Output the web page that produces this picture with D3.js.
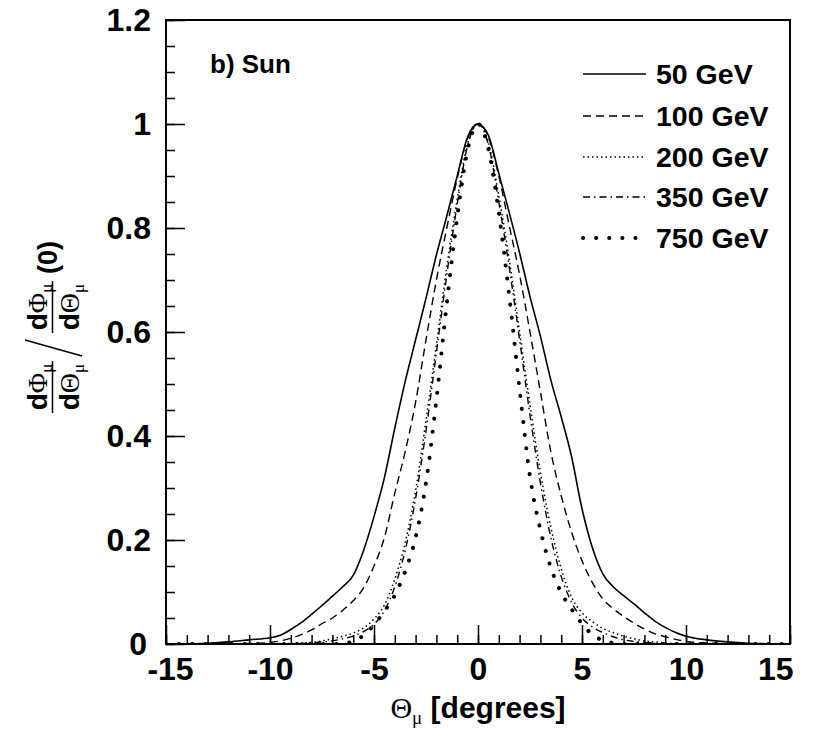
<!DOCTYPE html>
<html>
<head>
<meta charset="utf-8">
<script src="https://cdn.jsdelivr.net/npm/d3@7"></script>
<style>
  body { margin: 0; background: #fff; }
  text { font-family: "Liberation Sans", Arial, sans-serif; font-weight: bold; fill: #000; }
  .greek { font-family: "Liberation Serif", "Times New Roman", serif; font-weight: normal; }
</style>
</head>
<body>
<div id="chart"></div>
<script>
// Frame size and plot box
const FRAME_WIDTH = 815;
const FRAME_HEIGHT = 732;
const MARGINS = {left: 166, top: 20};
const VIS_WIDTH = 624;
const VIS_HEIGHT = 624;

// Angle grid (degrees) shared by all curves
const THETA = [-15, -14, -13, -12, -11, -10, -9.5, -9, -8.5, -8, -7.5, -7, -6.5, -6, -5.5, -5,
  -4.5, -4, -3.5, -3, -2.5, -2, -1.5, -1, -0.5, 0, 0.5, 1, 1.5, 2, 2.5, 3, 3.5, 4, 4.5, 5,
  5.5, 6, 6.5, 7, 7.5, 8, 8.5, 9, 9.5, 10, 11, 12, 13, 14, 15];

// Normalised distributions
const V50 = [0, 0.0005, 0.0015, 0.004, 0.008, 0.012, 0.017, 0.028, 0.041, 0.057, 0.074, 0.092,
  0.11, 0.132, 0.18, 0.245, 0.32, 0.415, 0.505, 0.585, 0.665, 0.748, 0.823, 0.9, 0.975, 1,
  0.978, 0.905, 0.83, 0.752, 0.668, 0.592, 0.508, 0.437, 0.36, 0.26, 0.185, 0.135, 0.11, 0.093,
  0.077, 0.06, 0.044, 0.032, 0.022, 0.015, 0.008, 0.004, 0.0015, 0.0005, 0];
const V100 = [0, 0, 0, 0, 0.001, 0.003, 0.006, 0.011, 0.018, 0.027, 0.039, 0.05,
  0.065, 0.083, 0.108, 0.15, 0.205, 0.29, 0.37, 0.465, 0.585, 0.7, 0.8, 0.895, 0.972, 1,
  0.975, 0.9, 0.805, 0.71, 0.6, 0.485, 0.37, 0.285, 0.215, 0.16, 0.118, 0.087, 0.068, 0.053,
  0.04, 0.029, 0.02, 0.014, 0.009, 0.005, 0.002, 0.0005, 0, 0, 0];
const V200 = [0, 0, 0, 0, 0, 0, 0, 0.001, 0.002, 0.003, 0.006, 0.01,
  0.015, 0.021, 0.031, 0.048, 0.075, 0.125, 0.195, 0.295, 0.43, 0.575, 0.725, 0.855, 0.962, 1,
  0.965, 0.862, 0.74, 0.6, 0.46, 0.33, 0.225, 0.145, 0.09, 0.06, 0.043, 0.03, 0.022, 0.015,
  0.01, 0.006, 0.004, 0.002, 0.001, 0, 0, 0, 0, 0, 0];
const V350 = [0, 0, 0, 0, 0, 0, 0, 0, 0.001, 0.002, 0.004, 0.006,
  0.01, 0.015, 0.024, 0.038, 0.064, 0.11, 0.18, 0.28, 0.41, 0.56, 0.71, 0.845, 0.958, 1,
  0.96, 0.85, 0.725, 0.585, 0.44, 0.31, 0.205, 0.13, 0.08, 0.05, 0.033, 0.022, 0.014, 0.008,
  0.005, 0.003, 0.001, 0, 0, 0, 0, 0, 0, 0, 0];
const V750 = [0, 0, 0, 0, 0, 0, 0, 0, 0, 0, 0, 0,
  0.001, 0.005, 0.017, 0.037, 0.063, 0.094, 0.14, 0.205, 0.31, 0.47, 0.655, 0.82, 0.95, 1,
  0.952, 0.83, 0.67, 0.49, 0.322, 0.22, 0.147, 0.099, 0.067, 0.039, 0.018, 0.007, 0.002, 0,
  0, 0, 0, 0, 0, 0, 0, 0, 0, 0, 0];

const SERIES_NAMES = ["50 GeV", "100 GeV", "200 GeV", "350 GeV", "750 GeV"];
const SERIES_VALUES = [V50, V100, V200, V350, V750];

// Axis ticks
const X_TICKS = [-15, -10, -5, 0, 5, 10, 15];
const X_TICK_LABELS = ["-15", "-10", "-5", "0", "5", "10", "15"];
const Y_TICKS = [0, 0.2, 0.4, 0.6, 0.8, 1, 1.2];
const Y_TICK_LABELS = ["0", "0.2", "0.4", "0.6", "0.8", "1", "1.2"];

// Line styles for each energy
const LINE_STYLES = [
  {width: 1.6, dash: null, cap: "butt"},
  {width: 1.4, dash: "8 5", cap: "butt"},
  {width: 1.5, dash: "1.5 3", cap: "butt"},
  {width: 1.4, dash: "7 4 1.5 4", cap: "butt"},
  {width: 4, dash: "0.1 13", cap: "round"}
];

const FRAME = d3.select("#chart")
  .append("svg")
    .attr("width", FRAME_WIDTH)
    .attr("height", FRAME_HEIGHT);

// Scales
const X_SCALE = d3.scaleLinear().domain([-15, 15]).range([0, VIS_WIDTH]);
const Y_SCALE = d3.scaleLinear().domain([0, 1.2]).range([VIS_HEIGHT, 0]);

const PLOT = FRAME.append("g")
  .attr("transform", "translate(" + MARGINS.left + "," + MARGINS.top + ")");

PLOT.append("clipPath").attr("id", "clip")
  .append("rect").attr("width", VIS_WIDTH).attr("height", VIS_HEIGHT);

// Minor ticks
PLOT.append("g")
  .attr("transform", "translate(0," + VIS_HEIGHT + ")")
  .call(d3.axisBottom(X_SCALE).tickValues(d3.range(-15, 15.01, 1)).tickSize(-9).tickSizeOuter(0).tickFormat(""))
  .call(g => g.select(".domain").remove());
PLOT.append("g")
  .call(d3.axisLeft(Y_SCALE).tickValues(d3.range(0, 1.2001, 0.05)).tickSize(-9).tickSizeOuter(0).tickFormat(""))
  .call(g => g.select(".domain").remove());

// Major ticks with labels
const XAXIS = PLOT.append("g")
  .attr("transform", "translate(0," + VIS_HEIGHT + ")")
  .call(d3.axisBottom(X_SCALE).tickValues(X_TICKS).tickSize(-19).tickSizeOuter(0).tickPadding(13)
    .tickFormat((d, i) => X_TICK_LABELS[i]))
  .call(g => g.select(".domain").remove())
  .attr("font-size", "32px");
// end labels nudged inwards, as in the original
XAXIS.selectAll(".tick text").filter(d => d === 15)
  .attr("text-anchor", "end").attr("dx", 3);
XAXIS.selectAll(".tick text").filter(d => d === -15)
  .attr("dx", 4);

const YAXIS = PLOT.append("g")
  .call(d3.axisLeft(Y_SCALE).tickValues(Y_TICKS).tickSize(-19).tickSizeOuter(0).tickPadding(15)
    .tickFormat((d, i) => Y_TICK_LABELS[i]))
  .call(g => g.select(".domain").remove())
  .attr("font-size", "32px");
YAXIS.selectAll(".tick text").filter(d => d === 0)
  .attr("dx", -4);

PLOT.selectAll(".tick line").attr("stroke", "#000").attr("stroke-width", 1.5);
PLOT.selectAll(".tick text").attr("font-family", "Liberation Sans, Arial, sans-serif").attr("font-weight", "bold");

// Curves
const LINE = d3.line()
  .x((d, i) => X_SCALE(THETA[i]))
  .y(d => Y_SCALE(d))
  .curve(d3.curveMonotoneX);

PLOT.append("g").attr("clip-path", "url(#clip)")
  .selectAll("path")
  .data(SERIES_VALUES)
  .enter()
  .append("path")
    .attr("d", d => LINE(d))
    .attr("fill", "none")
    .attr("stroke", "#000")
    .attr("stroke-width", (d, i) => LINE_STYLES[i].width)
    .attr("stroke-dasharray", (d, i) => LINE_STYLES[i].dash)
    .attr("stroke-linecap", (d, i) => LINE_STYLES[i].cap);

// Frame box
PLOT.append("rect")
  .attr("width", VIS_WIDTH)
  .attr("height", VIS_HEIGHT)
  .attr("fill", "none")
  .attr("stroke", "#000")
  .attr("stroke-width", 2);

// Panel label
FRAME.append("text")
  .attr("x", 210).attr("y", 73)
  .attr("font-size", "26px")
  .text("b) Sun");

// Legend
const LEGEND_Y = [74, 116, 157, 197, 238];
const LEGEND = FRAME.append("g");
LEGEND.selectAll("line")
  .data(SERIES_NAMES)
  .enter()
  .append("line")
    .attr("x1", 583).attr("x2", 646)
    .attr("y1", (d, i) => LEGEND_Y[i]).attr("y2", (d, i) => LEGEND_Y[i])
    .attr("stroke", "#000")
    .attr("stroke-width", (d, i) => LINE_STYLES[i].width)
    .attr("stroke-dasharray", (d, i) => LINE_STYLES[i].dash)
    .attr("stroke-linecap", (d, i) => LINE_STYLES[i].cap);
LEGEND.selectAll("text")
  .data(SERIES_NAMES)
  .enter()
  .append("text")
    .attr("x", 656)
    .attr("y", (d, i) => LEGEND_Y[i] + 10)
    .attr("font-size", "28.5px")
    .text(d => d);

// X axis title
const XT = FRAME.append("text")
  .attr("x", 478).attr("y", 718)
  .attr("text-anchor", "middle")
  .attr("font-size", "30px");
XT.append("tspan").attr("class", "greek").text("Θ");
XT.append("tspan").attr("class", "greek").attr("font-size", "19px").attr("dy", 6).text("μ");
XT.append("tspan").attr("dy", -6).text(" [degrees]");

// Y axis title: rotated ratio of two fractions
const YT = FRAME.append("g").attr("transform", "rotate(-90)");

function fraction(cx, top, bottom) {
  const num = YT.append("text")
    .attr("x", cx).attr("y", 47)
    .attr("text-anchor", "middle")
    .attr("font-size", "28px");
  num.append("tspan").text("d");
  num.append("tspan").attr("class", "greek").attr("font-weight", "bold").text(top);
  num.append("tspan").attr("class", "greek").attr("font-size", "17px").attr("dy", 5).text("μ");

  const den = YT.append("text")
    .attr("x", cx).attr("y", 79)
    .attr("text-anchor", "middle")
    .attr("font-size", "28px");
  den.append("tspan").text("d");
  den.append("tspan").attr("class", "greek").attr("font-weight", "bold").text(bottom);
  den.append("tspan").attr("class", "greek").attr("font-size", "17px").attr("dy", 5).text("μ");

  YT.append("line")
    .attr("x1", cx - 26).attr("x2", cx + 26)
    .attr("y1", 52.5).attr("y2", 52.5)
    .attr("stroke", "#000").attr("stroke-width", 1.5);
}

fraction(-387, "Φ", "Θ");
fraction(-307, "Φ", "Θ");

// slash between the two fractions
YT.append("line")
  .attr("x1", -356).attr("y1", 82)
  .attr("x2", -340).attr("y2", 25)
  .attr("stroke", "#000").attr("stroke-width", 1.5);

YT.append("text")
  .attr("x", -274).attr("y", 57)
  .attr("font-size", "27px")
  .text("(0)");
</script>
</body>
</html>
